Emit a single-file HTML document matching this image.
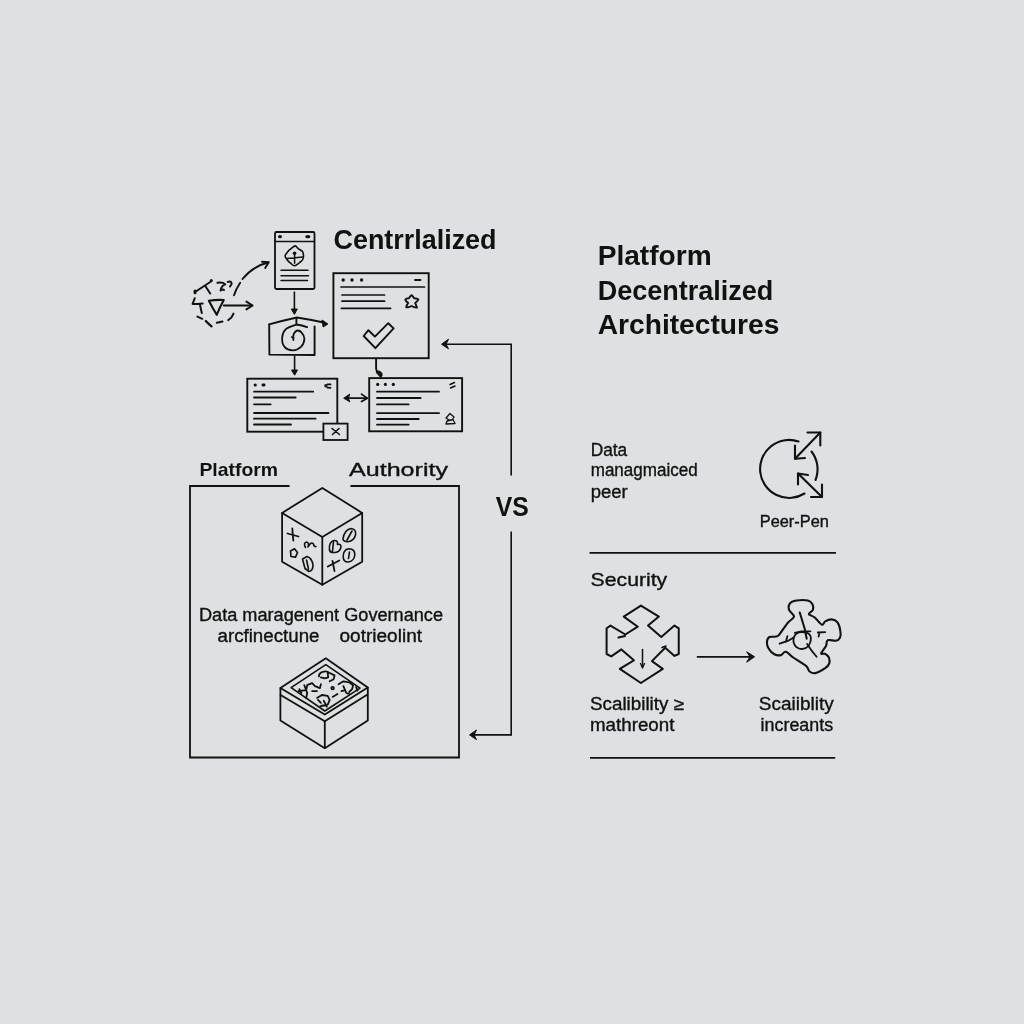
<!DOCTYPE html>
<html><head><meta charset="utf-8">
<style>
html,body{margin:0;padding:0;width:1024px;height:1024px;overflow:hidden;background:#dde1e1;}
svg{display:block;will-change:transform;}
text{font-family:"Liberation Sans",sans-serif;fill:#111;}
.b{font-weight:bold;}
.r{stroke:#111;stroke-width:0.35;}
.s{fill:none;stroke:#111;stroke-linecap:round;stroke-linejoin:round;}
</style></head><body>
<svg width="1024" height="1024" viewBox="0 0 1024 1024">
<rect x="0" y="0" width="1024" height="1024" fill="#dde1e1"/>

<!-- ===== TOP LEFT CLUSTER ===== -->
<text class="b" x="333.5" y="249" font-size="28" textLength="163" lengthAdjust="spacingAndGlyphs">Centrrlalized</text>

<!-- phone card -->
<g class="s" stroke-width="1.8">
  <rect x="275" y="232" width="39.5" height="57" rx="1.5"/>
  <line x1="275" y1="241.5" x2="314.5" y2="241.5" stroke-width="1.5"/>
  <line x1="281" y1="270.3" x2="308" y2="270.3" stroke-width="1.5"/>
  <line x1="281" y1="275.8" x2="308.5" y2="275.8" stroke-width="1.5"/>
  <line x1="281" y1="280.5" x2="307.5" y2="280.5" stroke-width="1.5"/>
  <path d="M295.2,245.9 C296.4,246.0 297.3,248.0 298.5,248.9 C299.8,249.8 301.7,250.4 302.5,251.6 C303.4,252.7 303.5,254.5 303.5,255.9 C303.5,257.3 303.2,258.7 302.5,259.9 C301.8,261.0 300.5,261.9 299.2,262.9 C297.9,263.8 296.0,265.8 294.6,265.8 C293.1,265.9 291.8,264.2 290.6,263.2 C289.4,262.2 288.2,261.1 287.3,259.9 C286.3,258.6 285.0,257.3 285.1,255.9 C285.2,254.5 286.9,252.8 287.9,251.6 C288.9,250.3 290.0,249.5 291.2,248.6 C292.5,247.6 294.0,245.9 295.2,245.9 Z" stroke-width="1.6"/>
  <path d="M287.3,258.5 L302.9,256.9 M294.6,254 L294.6,263.2" stroke-width="1.5"/>
</g>
<ellipse cx="280" cy="236.7" rx="2" ry="1.6" fill="#111"/>
<ellipse cx="307.8" cy="236.7" rx="2.6" ry="1.6" fill="#111"/>
<circle cx="294.6" cy="253.2" r="1.8" fill="#111"/>

<!-- arrow down 1 -->
<line x1="294.4" y1="291.5" x2="294.4" y2="310" stroke="#111" stroke-width="1.6"/>
<path d="M291.3,309 L297.3,309 L294.4,314.4 Z" fill="#111" stroke="#111" stroke-width="1" stroke-linejoin="round"/>

<!-- swirl box -->
<g class="s" stroke-width="1.9">
  <path d="M269.2,324.4 Q283,320.5 296.9,317.5 Q310,319.5 323.5,322.5"/>
  <path d="M269.2,324.4 L269.4,354.6 L314.6,355 L314.6,326.4"/>
  <path d="M296.4,318.2 L296.4,324.5 Q302,325 307.1,327.1"/>
  <path d="M296.2,324.7 C294.5,325.4 288.3,327.0 285.9,329.1 C283.6,331.2 282.4,334.4 282.2,337.3 C281.9,340.3 282.8,344.7 284.6,346.9 C286.3,349.1 290.0,350.3 292.8,350.3 C295.5,350.3 299.0,348.8 301.0,346.9 C302.9,345.0 304.3,341.1 304.4,338.7 C304.5,336.3 302.8,333.9 301.6,332.6 C300.5,331.2 298.8,330.4 297.5,330.5 C296.3,330.6 294.9,332.1 294.1,333.2 C293.4,334.4 293.2,336.2 293.1,337.3 C293.0,338.5 293.4,339.6 293.4,340.1" stroke-width="1.8"/>
  <path d="M291.5,337 L294,337.8" stroke-width="1.4"/>
</g>
<path d="M322.1,320.3 L327.6,324 L323.2,326.7 Z" fill="#111" stroke="#111" stroke-width="1.2" stroke-linejoin="round"/>

<!-- arrow down 2 -->
<line x1="294.6" y1="355.5" x2="294.6" y2="371" stroke="#111" stroke-width="1.6"/>
<path d="M291.5,370 L297.5,370 L294.6,375.2 Z" fill="#111" stroke="#111" stroke-width="1" stroke-linejoin="round"/>

<!-- dashed cluster -->
<g class="s" stroke-width="2">
  <path d="M195,292 L211,281.5 M205.5,286.3 L210.2,293.5"/>
  <path d="M217.5,282.8 Q223,282 225.3,284.4 Q221,286 220.6,290.6 Q223,289 224,290"/>
  <path d="M227.7,282 Q231.5,280.5 231.6,284 L230,286.5"/>
  <path d="M194.8,298.2 L192.6,303.9 L197.4,303.9 L202.7,303.5 M200.1,305.2 L201.8,313.1"/>
  <path d="M197.4,316.6 L202.3,318.8"/>
  <path d="M205.8,321 Q208,323.5 211.5,326.3" stroke-width="2.3"/>
  <path d="M216.8,322.8 L222.5,321.5"/>
  <path d="M228.2,320.1 Q232,318 233.5,313.6"/>
  <path d="M208.9,300.8 Q216,299.5 223.75,300 Q220,307 216.7,314.8 Q212,307 208.9,300.8 Z" stroke-width="2.1"/>
  <line x1="223.75" y1="305.5" x2="251.9" y2="305.5" stroke-width="1.9"/>
  <path d="M246.4,301.6 L252.6,305.5 L246.4,309.4" stroke-width="1.9"/>
  <path d="M234,295.3 Q236,289 240.2,282.8" stroke-width="1.9"/>
  <path d="M242.5,279 Q253,266 268.3,262.5" stroke-width="1.9"/>
  <path d="M262,261.7 L268.75,262.2 L265.2,268" stroke-width="1.9"/>
</g>
<ellipse cx="195" cy="292" rx="1.6" ry="2.4" fill="#111"/>
<circle cx="211.3" cy="280.6" r="1.5" fill="#111"/>

<!-- big window -->
<g class="s" stroke-width="1.9">
  <rect stroke-linejoin="miter" x="333.4" y="273.2" width="95.3" height="85"/>
  <line x1="341" y1="287" x2="424.5" y2="287" stroke-width="1.7"/>
  <line x1="342" y1="295" x2="384.5" y2="295" stroke-width="1.7"/>
  <line x1="342" y1="301.2" x2="384.5" y2="301.2" stroke-width="1.8"/>
  <line x1="341.5" y1="308.4" x2="390.5" y2="308.4" stroke-width="1.8"/>
  <line x1="415" y1="280" x2="420.5" y2="280" stroke-width="1.8"/>
  <path d="M411.7,295.2 Q412.8,296 414.1,298.2 Q417.5,298.3 418.4,299.6 Q418,301 415.2,303.1 Q416.5,306 417,307.5 Q415,308 411.5,306 Q408,307.8 406.3,307.3 Q406.5,305 408.2,302.9 Q405.5,301 405.3,299.6 Q406,298.3 408.9,298.2 Q410.5,295.8 411.7,295.2 Z" stroke-width="1.9"/>
  <path d="M363.7,336 L368.4,330.2 L374.9,336.6 L388.3,323.2 L393.6,328.4 L375.4,348.2 Z" stroke-width="1.9"/>
  <path d="M376.1,359 L376.1,368.5 Q376.2,370.5 377.5,372"/>
</g>
<circle cx="343.2" cy="280" r="1.7" fill="#111"/>
<circle cx="352" cy="280" r="1.7" fill="#111"/>
<circle cx="361.6" cy="280" r="1.7" fill="#111"/>
<path d="M376.6,370.8 Q380.5,370.8 382,373.2 Q382.8,376 380.6,377.4 Q378.8,375 376.3,372.8 Z" fill="#111" stroke="#111" stroke-width="1" stroke-linejoin="round"/>

<!-- left bottom window -->
<g class="s" stroke-width="1.9">
  <rect stroke-linejoin="miter" x="247.3" y="378.7" width="90" height="53"/>
  <line x1="254" y1="391.7" x2="313.2" y2="391.7" stroke-width="1.8"/>
  <line x1="254" y1="397.5" x2="295.7" y2="397.5" stroke-width="1.8"/>
  <line x1="254" y1="404.3" x2="270.7" y2="404.3" stroke-width="1.8"/>
  <line x1="254" y1="413" x2="328.5" y2="413" stroke-width="1.8"/>
  <line x1="254" y1="418.7" x2="315.6" y2="418.7" stroke-width="1.8"/>
  <line x1="254" y1="424.5" x2="291" y2="424.5" stroke-width="1.8"/>
  <path d="M327.4,384.4 L330.6,384.4 M327.4,387.6 L330.6,387.8" stroke-width="1.7"/>
  <circle cx="325.9" cy="385.8" r="1" stroke-width="1.4"/>
</g>
<rect x="323.4" y="423.6" width="24.2" height="16.4" fill="#dde1e1" stroke="#111" stroke-width="1.8"/>
<g class="s" stroke-width="1.6">
  <path d="M332,428.5 L339.5,434.5 M339,428.5 L332.5,434.5"/>
</g>
<circle cx="255.2" cy="385" r="1.6" fill="#111"/>
<rect x="261.5" y="383.6" width="4" height="2.8" rx="1.4" fill="#111"/>

<!-- right bottom window -->
<g class="s" stroke-width="1.9">
  <rect stroke-linejoin="miter" x="369.2" y="378.1" width="92.9" height="53.2"/>
  <line x1="377" y1="391.7" x2="439" y2="391.7" stroke-width="1.8"/>
  <line x1="377" y1="398" x2="420.6" y2="398" stroke-width="1.8"/>
  <line x1="377" y1="404.4" x2="408.6" y2="404.4" stroke-width="1.8"/>
  <line x1="377" y1="413.2" x2="439" y2="413.2" stroke-width="1.8"/>
  <line x1="377" y1="419" x2="418.7" y2="419" stroke-width="1.8"/>
  <line x1="377" y1="424.7" x2="408.6" y2="424.7" stroke-width="1.8"/>
  <path d="M450,384.5 L454.5,382.5 M450.5,388 L455,386" stroke-width="1.5"/>
  <path d="M446,418 L450,413.5 L454,417 L452,420 M446,418 L449,420 M446,424 L455,423.5 L453,419.5 L447,421 Z" stroke-width="1.3"/>
</g>
<circle cx="377.7" cy="384.4" r="1.6" fill="#111"/>
<circle cx="385.4" cy="384.4" r="1.6" fill="#111"/>
<circle cx="393.3" cy="384.4" r="1.6" fill="#111"/>

<!-- double arrow -->
<g class="s" stroke-width="1.7">
  <line x1="346" y1="398.2" x2="367" y2="398.2"/>
  <path d="M361.5,394.1 L367.3,398.2 L361.5,401.6"/>
</g>
<path d="M349.8,394.1 L343.7,398.2 L349.8,401.8 L348.3,398.2 Z" fill="#111" stroke="#111" stroke-width="1" stroke-linejoin="round"/>

<!-- ===== LEFT BOX ===== -->
<text class="b" x="199.4" y="476" font-size="19" textLength="78.6" lengthAdjust="spacingAndGlyphs">Platform</text>
<text class="r" x="349" y="476.4" font-size="18.6" stroke="#111" stroke-width="0.35" textLength="99" lengthAdjust="spacingAndGlyphs">Authority</text>
<g class="s" stroke-width="1.8">
  <path d="M289.5,486 L190,486 L190,757.5 L459,757.5 L459,486 L350.5,486" stroke-linejoin="miter" stroke-linecap="butt"/>
</g>

<!-- cube -->
<g class="s" stroke-width="1.8">
  <path d="M322.3,488 L362.2,512.9 L362.2,561.7 L322.3,584.8 L282.1,561.7 L282.1,512.9 Z"/>
  <path d="M282.1,512.9 L322.3,536.9 L362.2,512.9 M322.3,536.9 L322.3,584.8"/>
</g>
<g class="s" stroke-width="1.8">
  <path d="M287.5,533.5 L298.5,536.5 M292.3,528.5 L293.3,540.5"/>
  <path d="M305.5,547.5 Q303,543 306.5,542 Q309.5,542.5 308,547 Q311,541 313.5,544 Q314,547 316,546.5" stroke-width="1.6"/>
  <path d="M290.5,551 L294.5,548.8 L297.5,552.5 L295.5,557.2 L291,556.5 Z" stroke-width="1.7"/>
  <path d="M302.5,559 L307,556.5 Q312,558 313,565 Q313,571 309,571.5 L305,568.5 Z M306.5,560 L308.5,569" stroke-width="1.6"/>
  <path d="M343,539 Q344,530 351,528.5 Q356.5,529 355.5,535 Q354,541 348,541.8 Q343,541.5 343,539 Z M347,540 L352,531" stroke-width="1.6"/>
  <path d="M329.5,550 Q328.5,542 334,540.5 Q338,540 337.5,544.5 Q341,543.5 341,547 Q340,552 335,552.5 Q330,553 329.5,550 Z M333.5,542 L332.5,551" stroke-width="1.6"/>
  <path d="M343.2,557 Q343,549.5 349,548.8 Q355,549 354.8,555 Q354,561.5 348,562 Q343.5,562 343.2,557 Z M349.5,552 L348.5,558.5" stroke-width="1.6"/>
  <path d="M327.8,566.5 L339.3,560.5 M332.5,561 L334.5,571"/>
</g>

<text class="r" x="199" y="621" font-size="18" textLength="244" lengthAdjust="spacingAndGlyphs">Data maragenent Governance</text>
<text class="r" x="217.5" y="642.2" font-size="18" textLength="102" lengthAdjust="spacingAndGlyphs">arcfinectune</text>
<text class="r" x="339.5" y="642.2" font-size="18" textLength="82.5" lengthAdjust="spacingAndGlyphs">ootrieolint</text>

<!-- box2 -->
<g class="s" stroke-width="1.8">
  <path d="M325.8,658.3 L367.8,687.6 L367.8,720.4 L324.8,748.2 L280.4,720.4 L280.4,688.1 Z"/>
  <path d="M280.4,688.1 L324.8,714.5 L367.8,687.6"/>
  <path d="M280.6,695 L324.8,721.3 L367.5,694.5"/>
  <line x1="324.8" y1="721.3" x2="324.8" y2="748.2"/>
  <path d="M325.8,664.7 L360,688.1 L324.8,711 L291.1,687.6 Z" stroke-width="1.6"/>
</g>
<g class="s" stroke-width="1.8">
  <path d="M318.9,676.4 C318.9,671.5 325.8,670.1 329.7,673.0 L334.6,675.4 L333.6,679.3 L329.7,681.3 M327.7,673.0 L328.2,677.4 L324.8,678.4 L320.9,677.4"/>
  <path d="M298.4,691.1 L306.2,690.1 L307.2,685.2 L312.1,683.2 L315.0,686.2 L319.9,688.1 L320.9,684.2 M304.3,685.2 L307.2,693.0 L306.2,697.9 M312.1,691.1 L317.0,691.1 M299.4,689.1 L301.4,693.0"/>
  <path d="M338.5,684.2 L343.4,681.3 L349.2,682.3 L353.1,685.2 L352.1,689.1 L349.2,692.0 M343.4,686.2 L346.3,693.0 L349.2,694.0 M356.1,687.2 L357.5,690.6 M341.4,691.1 L345.3,690.1"/>
  <path d="M317.0,697.9 L321.9,695.0 L327.7,695.9 L329.7,699.9 L327.7,704.7 L321.9,705.7 M332.6,696.9 L337.5,694.0 M323.8,700.8 L326.8,706.7 M320.4,706.2 L324.8,705.7 M318.0,699.9 L320.9,702.8"/>
  <circle cx="332.6" cy="688.1" r="1.3"/>
</g>

<!-- ===== VS & connectors ===== -->
<text class="b" x="495.8" y="515.5" font-size="27.5" textLength="33" lengthAdjust="spacingAndGlyphs">VS</text>
<g class="s" stroke-width="1.6">
  <path d="M511.2,475.5 L511.2,344.2 L444,344.2" stroke-linejoin="miter" stroke-linecap="butt"/>
  <path d="M511.2,531.5 L511.2,734.9 L472,734.9" stroke-linejoin="miter" stroke-linecap="butt"/>
</g>
<path d="M448.5,339.2 L441.5,344.2 L448.5,348.8 L446,344.2 Z" fill="#111" stroke="#111" stroke-width="1" stroke-linejoin="round"/>
<path d="M476.5,730 L469.5,734.9 L476.5,739.6 L474,734.9 Z" fill="#111" stroke="#111" stroke-width="1" stroke-linejoin="round"/>

<!-- ===== RIGHT COLUMN ===== -->
<text class="b" x="597.7" y="265" font-size="27" textLength="114" lengthAdjust="spacingAndGlyphs">Platform</text>
<text class="b" x="597.7" y="299.7" font-size="27" textLength="175.6" lengthAdjust="spacingAndGlyphs">Decentralized</text>
<text class="b" x="597.7" y="333.6" font-size="27" textLength="181.7" lengthAdjust="spacingAndGlyphs">Architectures</text>

<text class="r" x="590.7" y="456" font-size="17.5" textLength="36.5" lengthAdjust="spacingAndGlyphs">Data</text>
<text class="r" x="590.7" y="476" font-size="17.5" textLength="107" lengthAdjust="spacingAndGlyphs">managmaiced</text>
<text class="r" x="590.7" y="498" font-size="17.5" textLength="37" lengthAdjust="spacingAndGlyphs">peer</text>

<!-- circle arrows icon -->
<g class="s" stroke-width="2.1">
  <path d="M798.5,441.5 A29,29 0 1 0 804.5,493.5"/>
  <path d="M811.5,451.5 A29,29 0 0 1 815.5,480"/>
  <line x1="795" y1="458.8" x2="820.3" y2="432.5"/>
  <path d="M807.5,432.5 L820.3,432.5 L820.3,445.5"/>
  <path d="M795,445.5 L795,458.8 L805,458"/>
  <line x1="798" y1="473.5" x2="822" y2="497"/>
  <path d="M798,484.5 L798,473.5 L808,475"/>
  <path d="M811,497 L822,497 L822,484.5"/>
</g>
<text class="r" x="759.8" y="527" font-size="16" textLength="69" lengthAdjust="spacingAndGlyphs">Peer-Pen</text>
<line x1="589.5" y1="552.9" x2="836" y2="552.9" stroke="#111" stroke-width="1.8"/>

<text class="r" x="590.6" y="586" font-size="18.5" textLength="76.6" lengthAdjust="spacingAndGlyphs">Security</text>

<!-- puzzle 1 -->
<g class="s" stroke-width="2">
  <path d="M640.9,605.6 L658.9,616.6 L648,625.6 L661.25,636.9 L674.5,625.6 L678.75,628.3 L678.75,654 L674.5,655.9 L665.2,647.8 L651.9,661.1 L662.8,668.9 L640.9,683 L619.8,668.9 L633.9,660.3 L621.4,649.4 L611.25,656.4 L606.6,654 L606.6,628.3 L610.5,625.6 L625.3,634.5 L637.8,626.7 L623.75,616.6 Z"/>
  <line x1="642.5" y1="649.5" x2="642.5" y2="667" stroke-width="1.5"/>
  <path d="M640.5,663.5 L642.5,668 L644.5,663.5" stroke-width="1.3"/>
  <path d="M618.5,637.5 L625,636" stroke-width="2.2"/>
  <path d="M662,647.5 L666,646" stroke-width="1.6"/>
</g>

<!-- arrow -->
<g class="s" stroke-width="1.7">
  <line x1="697.5" y1="656.8" x2="751" y2="656.8"/>
</g>
<path d="M746.7,651.8 L754.6,656.8 L746.7,662.2 L750,656.8 Z" fill="#111" stroke="#111" stroke-width="1" stroke-linejoin="round"/>

<!-- puzzle 2 -->
<g class="s" stroke-width="2.1">
  <path d="M794.0,616.5 C794.1,614.5 789.8,612.1 789.1,609.9 C788.4,607.8 788.7,605.0 789.9,603.4 C791.1,601.8 793.4,601.0 796.5,600.5 C799.5,600.0 805.3,599.9 807.9,600.5 C810.6,601.1 811.6,602.6 812.5,604.2 C813.3,605.8 813.5,608.3 812.9,609.9 C812.2,611.6 808.5,612.8 808.8,614.0 C809.0,615.3 812.3,615.6 814.5,617.3 C816.7,619.1 820.1,624.0 821.9,624.7 C823.7,625.4 823.5,622.3 825.2,621.4 C826.8,620.5 829.7,619.2 831.7,619.4 C833.8,619.5 836.0,620.4 837.5,622.3 C838.9,624.1 839.9,627.9 840.3,630.5 C840.8,633.1 840.7,636.1 839.9,637.8 C839.2,639.5 837.9,640.3 835.8,640.7 C833.8,641.1 829.3,639.4 827.6,640.3 C826.0,641.2 827.1,643.9 826.0,646.0 C824.9,648.2 821.2,652.1 821.1,653.4 C820.9,654.7 823.9,653.2 825.2,653.8 C826.5,654.5 828.2,656.0 828.9,657.5 C829.5,659.1 829.9,661.5 829.3,663.3 C828.7,665.0 827.5,666.5 825.2,668.2 C822.8,669.8 817.9,672.6 815.3,673.1 C812.7,673.7 811.0,672.6 809.6,671.5 C808.1,670.4 808.3,668.2 806.7,666.5 C805.1,664.9 802.0,663.1 799.7,661.6 C797.5,660.1 795.5,659.2 793.2,657.5 C790.8,655.9 787.8,652.2 785.8,651.8 C783.7,651.4 782.8,654.7 780.9,655.1 C779.0,655.5 776.4,655.3 774.3,654.2 C772.3,653.2 769.8,650.6 768.6,648.5 C767.3,646.5 766.8,643.9 766.9,641.9 C767.1,640.0 767.6,638.0 769.4,637.0 C771.2,636.1 775.3,637.6 777.6,636.2 C779.9,634.8 781.6,631.1 783.3,628.8 C785.1,626.5 786.5,624.3 788.3,622.3 C790.0,620.2 793.9,618.6 794.0,616.5 Z"/>
  <path d="M801.4,632.1 C803.8,632.0 808.1,632.9 809.6,634.6 C811.1,636.2 810.9,639.8 810.4,641.9 C809.9,644.1 808.2,646.6 806.3,647.7 C804.4,648.8 801.0,649.2 798.9,648.5 C796.9,647.8 794.7,645.8 794.0,643.6 C793.3,641.4 793.6,637.3 794.8,635.4 C796.0,633.5 798.9,632.2 801.4,632.1 Z" stroke-width="1.8"/>
  <path d="M799.7,612.4 L804.7,628.8 L806.7,638.7" stroke-width="2" transform="" />
  <path d="M807.1,644.0 L811.2,650.1 L816.6,656.7" stroke-width="1.8"/>
  <path d="M794.8,632.9 L801.4,631.3 L810.4,631.3" stroke-width="1.8"/>
  <path d="M779.6,643.6 789.1,640.3 793.2,637.8 M787.4,636.2 785.8,641.9" stroke-width="1.8"/>
  <path d="M817.8,632.5 825.2,632.1 M819.4,632.9 818.6,636.6" stroke-width="1.8"/>
</g>

<text class="r" x="590" y="709.5" font-size="17.5" textLength="94" lengthAdjust="spacingAndGlyphs">Scalibility ≥</text>
<text class="r" x="590" y="731.4" font-size="17.5" textLength="84.4" lengthAdjust="spacingAndGlyphs">mathreont</text>
<text class="r" x="758.8" y="709.5" font-size="17.5" textLength="75" lengthAdjust="spacingAndGlyphs">Scaiiblity</text>
<text class="r" x="760.6" y="731.4" font-size="17.5" textLength="72.5" lengthAdjust="spacingAndGlyphs">increants</text>
<line x1="590" y1="757.8" x2="835.2" y2="757.8" stroke="#111" stroke-width="1.8"/>

</svg>
</body></html>
